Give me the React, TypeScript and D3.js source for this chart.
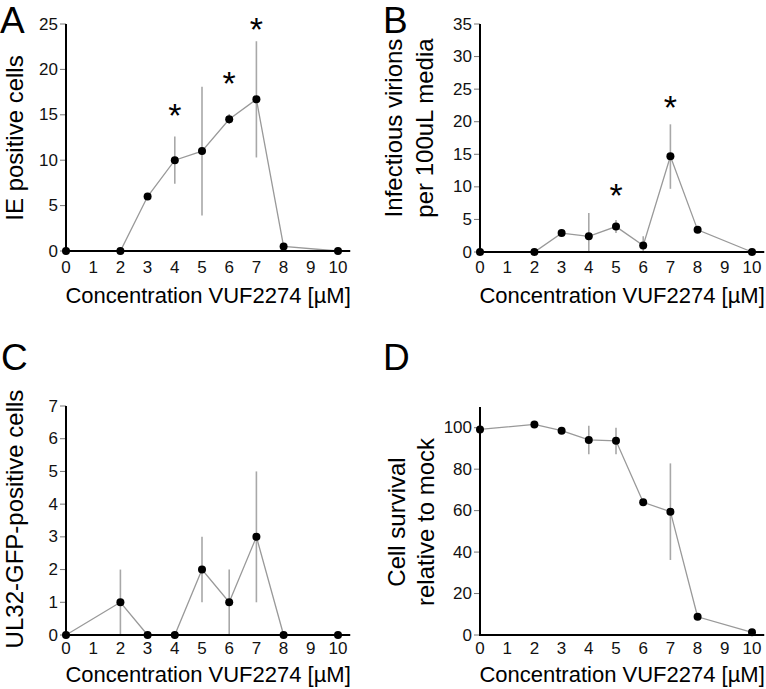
import React from "react";
import * as d3 from "d3";

// ---------- data ----------
const concentrations = [0, 2, 3, 4, 5, 6, 7, 8, 10];
const xTickValues = [0, 1, 2, 3, 4, 5, 6, 7, 8, 9, 10];
const xTitle = "Concentration VUF2274 [µM]";

// Panel A: IE positive cells
const ieMean = [0, 0, 6, 10, 11, 14.5, 16.7, 0.5, 0];
const ieLow = [null, null, null, 7.4, 3.9, 14.0, 10.3, null, null];
const ieHigh = [null, null, null, 12.6, 18.1, 15.1, 23.1, null, null];
const ieStars = [
  { x: 4, y: 15.8 },
  { x: 6, y: 19.3 },
  { x: 7, y: 25.2 },
];
const ieTicks = [0, 5, 10, 15, 20, 25];

// Panel B: infectious virions
const virMean = [0, 0, 2.9, 2.4, 3.9, 1.0, 14.7, 3.4, 0];
const virLow = [null, null, null, 0, 2.9, 0, 9.7, null, null];
const virHigh = [null, null, null, 6.0, 4.9, 2.4, 19.6, null, null];
const virStars = [
  { x: 5, y: 9.9 },
  { x: 7, y: 23.4 },
];
const virTicks = [0, 5, 10, 15, 20, 25, 30, 35];

// Panel C: UL32-GFP-positive cells
const gfpMean = [0, 1, 0, 0, 2, 1, 3, 0, 0];
const gfpLow = [null, 0, null, null, 1, 0, 1, null, null];
const gfpHigh = [null, 2, null, null, 3, 2, 5, null, null];
const gfpTicks = [0, 1, 2, 3, 4, 5, 6, 7];

// Panel D: cell survival
const survMean = [99.2, 101.6, 98.6, 94.1, 93.7, 64.0, 59.5, 8.8, 1.3];
const survLow = [null, null, null, 87.2, 87.2, null, 36.2, null, null];
const survHigh = [null, null, null, 101, 100, null, 82.8, null, null];
const survTicks = [0, 20, 40, 60, 80, 100];

type Panel = {
  letter: string;
  letterX: number;
  letterY: number;
  xRange: [number, number];
  yDomain: [number, number];
  yRange: [number, number];
  yTicks: number[];
  mean: number[];
  low: (number | null)[];
  high: (number | null)[];
  stars: { x: number; y: number }[];
  ylabel: string[];
  ylabelX: number[];
  ylabelY: number;
  xTickY: number;
  xTitleY: number;
};

const FONT = "'Liberation Sans', Arial, Helvetica, sans-serif";

const panels: Panel[] = [
  {
    letter: "A",
    letterX: 0,
    letterY: 33,
    xRange: [66, 338],
    yDomain: [0, 25],
    yRange: [251, 24],
    yTicks: ieTicks,
    mean: ieMean,
    low: ieLow,
    high: ieHigh,
    stars: ieStars,
    ylabel: ["IE positive cells"],
    ylabelX: [14],
    ylabelY: 138,
    xTickY: 267,
    xTitleY: 303,
  },
  {
    letter: "B",
    letterX: 383,
    letterY: 33,
    xRange: [480, 752],
    yDomain: [0, 35],
    yRange: [252, 24],
    yTicks: virTicks,
    mean: virMean,
    low: virLow,
    high: virHigh,
    stars: virStars,
    ylabel: ["Infectious virions", "per 100uL media"],
    ylabelX: [393, 424],
    ylabelY: 128,
    xTickY: 267,
    xTitleY: 303,
  },
  {
    letter: "C",
    letterX: 1,
    letterY: 370,
    xRange: [66, 338],
    yDomain: [0, 7],
    yRange: [635, 406],
    yTicks: gfpTicks,
    mean: gfpMean,
    low: gfpLow,
    high: gfpHigh,
    stars: [],
    ylabel: ["UL32-GFP-positive cells"],
    ylabelX: [14],
    ylabelY: 519,
    xTickY: 648,
    xTitleY: 682,
  },
  {
    letter: "D",
    letterX: 383,
    letterY: 370,
    xRange: [480, 752],
    yDomain: [0, 110],
    yRange: [635, 407],
    yTicks: survTicks,
    mean: survMean,
    low: survLow,
    high: survHigh,
    stars: [],
    ylabel: ["Cell survival", "relative to mock"],
    ylabelX: [396, 425],
    ylabelY: 522,
    xTickY: 648,
    xTitleY: 682,
  },
];

function PanelView({ p }: { p: Panel }) {
  const x = d3.scaleLinear().domain([0, 10]).range(p.xRange);
  const y = d3.scaleLinear().domain(p.yDomain).range(p.yRange);
  const x0 = x(0);
  const xEnd = x(10.45);
  const yTop = y(p.yDomain[1]);
  const yBot = y(0);
  const pts = concentrations.map((c, i) => [x(c), y(p.mean[i])] as [number, number]);
  const line = d3.line()(pts) || "";
  return (
    <g fontFamily={FONT}>
      <text x={p.letterX} y={p.letterY} fontSize={37} fill="#000">
        {p.letter}
      </text>
      {/* y tick marks and labels */}
      {p.yTicks.map((t) => (
        <g key={t}>
          <line x1={x0 - 6} x2={x0} y1={y(t)} y2={y(t)} stroke="#777" strokeWidth={1} />
          <text
            x={x0 - 8}
            y={y(t)}
            fontSize={17}
            textAnchor="end"
            dominantBaseline="central"
            fill="#111"
          >
            {t}
          </text>
        </g>
      ))}
      {/* x tick labels */}
      {xTickValues.map((t) => (
        <text
          key={t}
          x={x(t)}
          y={p.xTickY}
          fontSize={17}
          textAnchor="middle"
          dominantBaseline="central"
          fill="#111"
        >
          {t}
        </text>
      ))}
      {/* error bars */}
      {concentrations.map((c, i) =>
        p.low[i] !== null && p.high[i] !== null ? (
          <line
            key={"e" + c}
            x1={x(c)}
            x2={x(c)}
            y1={y(p.low[i] as number)}
            y2={y(p.high[i] as number)}
            stroke="#a8a8a8"
            strokeWidth={1.6}
          />
        ) : null
      )}
      {/* line */}
      <path d={line} fill="none" stroke="#999" strokeWidth={1.3} />
      {/* axes */}
      <line x1={x0} x2={x0} y1={yTop} y2={yBot + 1} stroke="#000" strokeWidth={2} />
      <line x1={x0 - 1} x2={xEnd} y1={yBot} y2={yBot} stroke="#000" strokeWidth={2} />
      {/* points */}
      {pts.map((pt, i) => (
        <circle key={"p" + i} cx={pt[0]} cy={pt[1]} r={4} fill="#000" />
      ))}
      {/* significance stars */}
      {p.stars.map((s, i) => (
        <text
          key={"s" + i}
          x={x(s.x)}
          y={y(s.y) + 19}
          fontSize={34}
          textAnchor="middle"
          fill="#000"
        >
          *
        </text>
      ))}
      {/* y label */}
      {p.ylabel.map((l, i) => (
        <text
          key={"yl" + i}
          transform={`translate(${p.ylabelX[i]},${p.ylabelY}) rotate(-90)`}
          fontSize={24}
          textAnchor="middle"
          dominantBaseline="central"
          fill="#000"
        >
          {l}
        </text>
      ))}
      {/* x title */}
      <text
        x={(x0 + xEnd) / 2}
        y={p.xTitleY}
        fontSize={22}
        textAnchor="middle"
        fill="#000"
      >
        {xTitle}
      </text>
    </g>
  );
}

export default function App() {
  return (
    <svg
      width={766}
      height={689}
      style={{ position: "absolute", left: 0, top: 0, background: "#fff" }}
    >
      <rect width={766} height={689} fill="#fff" />
      {panels.map((p) => (
        <PanelView key={p.letter} p={p} />
      ))}
    </svg>
  );
}
